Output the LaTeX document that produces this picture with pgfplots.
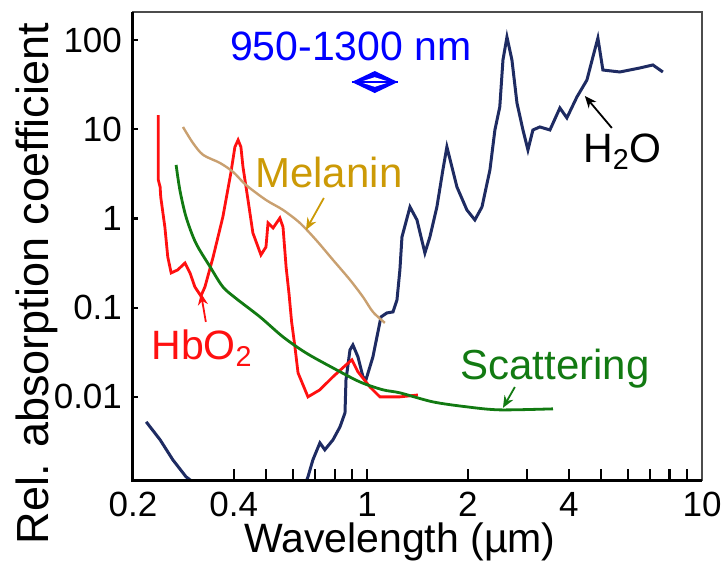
\documentclass[border=0pt]{standalone}
\usepackage{fontspec}
\setmainfont{Liberation Sans}
\usepackage{pgfplots}
\pgfplotsset{compat=1.18}
\usetikzlibrary{arrows.meta}

\definecolor{water}{HTML}{1E2B62}
\definecolor{hbred}{HTML}{FF1010}
\definecolor{scatgreen}{HTML}{127A12}
\definecolor{meltan}{HTML}{C9A070}
\definecolor{meltext}{HTML}{CC9A06}

\begin{document}
\begin{tikzpicture}
% fixed page: 722 x 567 px at 0.5pt per px
\useasboundingbox (-66.5pt,-43.5pt) rectangle (294.5pt,240pt);
\begin{axis}[
  scale only axis,
  width=284.5pt, height=234pt,
  xmode=log, ymode=log,
  xmin=0.2, xmax=10, ymin=0.00117, ymax=206,
  xtick={0.2,0.4,1,2,4,10},
  xticklabels={0.2,0.4,1,2,4,10},
  ytick={0.01,0.1,1,10,100},
  yticklabels={0.01,0.1,1,10,100},
  major tick length=0pt, minor tick length=0pt,
  axis line style={draw=gray!60!black, line width=0.9pt},
  clip mode=individual,
  /pgf/number format/assume math mode=true,
  ticklabel style={font=\fontsize{17.5}{20}\selectfont},
  xticklabel style={yshift=-2.5pt},
  yticklabel style={xshift=-2pt},
  xlabel={Wavelength (µm)},
  ylabel={Rel. absorption coefficient},
  xlabel style={font=\fontsize{20.5}{24}\selectfont, at={(axis description cs:0.469,-0.155)}, anchor=base},
  ylabel style={font=\fontsize{22.5}{26}\selectfont, at={(axis description cs:-0.149,0.419)}, anchor=base},
]

% H2O, short-wavelength branch
\addplot[water, line width=1.5pt] coordinates {
  (0.219,0.00525)(0.241,0.0033)(0.263,0.00197)(0.288,0.00127)(0.308,0.00105)(0.33,0.0009)
};
% H2O, main branch
\addplot[water, line width=1.5pt] coordinates {
  (0.650,0.0010)(0.666,0.00127)(0.689,0.00197)(0.723,0.00305)(0.748,0.00255)
  (0.791,0.0033)(0.830,0.00461)(0.859,0.00662)(0.865,0.0155)(0.889,0.0336)
  (0.907,0.0382)(0.939,0.0281)(0.972,0.0168)(0.992,0.0155)(1.041,0.0281)
  (1.100,0.0787)(1.146,0.0873)(1.195,0.0896)(1.228,0.122)(1.253,0.265)
  (1.271,0.620)(1.343,1.345)(1.409,0.962)(1.488,0.410)(1.540,0.620)
  (1.616,1.345)(1.684,3.50)(1.731,6.33)(1.792,3.78)(1.855,2.25)
  (1.986,1.245)(2.098,0.962)(2.203,1.345)(2.327,3.50)(2.408,9.81)
  (2.49,17.8)(2.545,59.7)(2.616,108)(2.707,59.7)(2.802,19.7)
  (2.920,9.81)(3.022,5.86)(3.127,9.81)(3.280,10.6)(3.515,9.81)
  (3.765,17.3)(3.950,13.4)(4.232,23.0)(4.533,35.6)(4.723,64.5)
  (4.888,105)(5.059,46.1)(5.686,43.8)(6.525,48.6)(7.134,52.5)(7.642,43.8)
};

% HbO2
\addplot[hbred, line width=1.4pt] coordinates {
  (0.238,14.4)(0.238,2.70)(0.241,2.25)(0.242,1.74)(0.249,0.80)(0.254,0.370)
  (0.260,0.245)(0.272,0.265)(0.286,0.317)(0.296,0.245)(0.306,0.171)(0.319,0.135)
  (0.328,0.171)(0.347,0.370)(0.371,1.04)(0.392,3.24)(0.403,6.33)(0.412,7.58)
  (0.420,6.33)(0.426,3.78)(0.441,1.61)(0.456,0.688)(0.482,0.390)(0.499,0.479)
  (0.506,0.890)(0.524,0.782)(0.549,1.01)(0.561,0.80)(0.573,0.286)(0.585,0.14)
  (0.595,0.07)(0.609,0.0363)(0.622,0.0186)(0.666,0.0100)(0.723,0.0120)
  (0.791,0.0168)(0.865,0.0228)(0.901,0.0260)(0.939,0.0191)(1.020,0.0129)
  (1.092,0.0100)(1.253,0.0100)(1.418,0.0105)
};

% Melanin
\addplot[meltan, line width=1.2pt, smooth] coordinates {
  (0.282,10.6)(0.302,7.01)(0.324,5.15)(0.364,4.18)(0.398,3.32)(0.435,2.37)
  (0.499,1.61)(0.561,1.245)(0.630,0.890)(0.704,0.574)(0.791,0.343)(0.889,0.205)
  (0.972,0.132)(1.041,0.0896)(1.130,0.0675)
};

% Scattering
\addplot[scatgreen, line width=1.4pt, smooth] coordinates {
  (0.269,3.98)(0.276,2.09)(0.288,1.04)(0.308,0.531)(0.340,0.286)(0.371,0.171)
  (0.406,0.127)(0.479,0.0787)(0.561,0.047)(0.657,0.0311)(0.791,0.0211)
  (0.952,0.0147)(1.115,0.0120)(1.253,0.0111)(1.572,0.00879)(1.986,0.00773)
  (2.49,0.00715)(3.59,0.00734)
};

% inward tick marks: bottom (long), left (short)
\pgfplotsinvokeforeach{0.4,0.5,0.6,0.7,0.8,0.9,1,2,3,4,5,6,7,8,9}{
  \draw[black, line width=1.1pt] (axis cs:#1,0.00117) -- ++(0pt,5.5pt);
}
\pgfplotsinvokeforeach{0.01,0.1,1,10,100}{
  \draw[black, line width=1.1pt] (axis cs:0.2,#1) -- ++(2.5pt,0pt);
}
% left and bottom axis lines in black
\draw[black, line width=1.5pt] (rel axis cs:0,1) -- (rel axis cs:0,0) -- (rel axis cs:1,0);

% window label and marker
\node[blue, font=\fontsize{20.5}{24}\selectfont] at (axis cs:0.895,85.7) {950-1300 nm};
\fill[blue] (axis cs:0.90,33.8) -- ++(11.5pt,5.5pt) -- ++(11.5pt,-5.5pt) -- ++(-11.5pt,-5.5pt) -- cycle;
\fill[white] (axis cs:0.90,33.8) ++(4pt,0pt) -- ++(7.5pt,2.4pt) -- ++(7.5pt,-2.4pt) -- ++(-7.5pt,-2.4pt) -- cycle;
\draw[blue, line width=0.9pt] (axis cs:0.90,33.8) -- ++(23pt,0pt);

% curve labels
\node[meltext, font=\fontsize{21}{24}\selectfont, anchor=center] at (axis cs:0.769,3.24) {Melanin};
\draw[meltext, line width=0.9pt, -{Stealth[length=6pt,width=5pt]}] (axis cs:0.743,1.697) -- (axis cs:0.657,0.743);

\node[scatgreen, font=\fontsize{21}{24}\selectfont, anchor=base] at (axis cs:3.638,0.0155) {Scattering};
\draw[scatgreen, line width=0.9pt, -{Stealth[length=6pt,width=5pt]}] (axis cs:2.762,0.0129) -- (axis cs:2.545,0.00753);

\node[hbred, font=\fontsize{20.5}{24}\selectfont, anchor=base west, inner sep=0pt] at (axis cs:0.2264,0.026) {HbO\textsubscript{2}};
\draw[hbred, line width=0.9pt, -{Stealth[length=6pt,width=5pt]}] (axis cs:0.330,0.0692) -- (axis cs:0.319,0.146);

\node[black, font=\fontsize{20.5}{24}\selectfont, anchor=base west, inner sep=0pt] at (axis cs:4.408,4.2) {H\textsubscript{2}O};
\draw[black, line width=0.9pt, -{Stealth[length=6pt,width=5pt]}] (axis cs:5.38,10.33) -- (axis cs:4.469,23.6);

\end{axis}
\end{tikzpicture}
\end{document}
